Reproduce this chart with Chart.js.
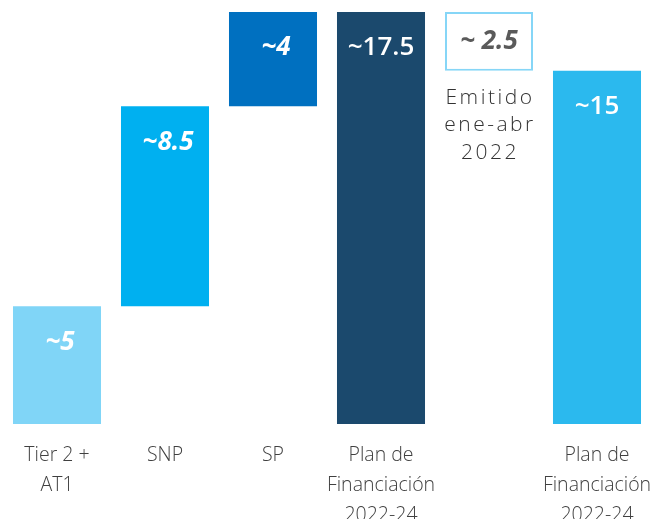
<!DOCTYPE html>
<html>
<head>
<meta charset="utf-8">
<script src="https://cdn.jsdelivr.net/npm/chart.js@4/dist/chart.umd.min.js"></script>
<style>
  html, body { margin:0; padding:0; background:#fff; }
  #wrap { width:651px; height:519px; position:relative; }
</style>
</head>
<body>
<div id="wrap"><canvas id="waterfall" width="651" height="519"></canvas></div>
<script>
// waterfall: emisiones por tipo -> plan de financiación
const categories = [
  ['Tier 2 +', 'AT1'],
  ['SNP'],
  ['SP'],
  ['Plan de', 'Financiación', '2022-24'],
  [''],
  ['Plan de', 'Financiación', '2022-24']
];
const values = [5, 8.5, 4, 17.5, 2.5, 15];
const bases = [0, 5, 13.5, 0, 15, 0];
const labelPrefix = ['~', '~', '~', '~', '~ ', '~'];
const emitidoLines = ['Emitido', 'ene-abr', '2022'];

const fills = ['#80d5f7', '#00b0f0', '#0070c0', '#1b496d', '#ffffff', '#2bb9ee'];
const borders = ['#80d5f7', '#00b0f0', '#0070c0', '#1b496d', '#86d6f7', '#2bb9ee'];
const borderW = [0, 0, 0, 0, 2, 0];

const ranges = values.map((v,i) => [bases[i], bases[i] + v]);

const labelsPlugin = {
  id: 'barLabels',
  afterDatasetsDraw(chart){
    const ctx = chart.ctx;
    const meta = chart.getDatasetMeta(0);
    ctx.save();
    ctx.textAlign = 'center';
    ctx.textBaseline = 'middle';
    meta.data.forEach((bar, i) => {
      const top = Math.min(bar.y, bar.base);
      const italic = (i !== 3 && i !== 5);
      ctx.font = (italic ? 'italic 700 ' : '600 ') + '26px "Open Sans", sans-serif';
      ctx.fillStyle = i === 4 ? '#5a5a5a' : '#ffffff';
      const off = i === 4 ? 30 : 36;
      ctx.fillText(labelPrefix[i] + values[i], bar.x + (italic && i !== 4 ? 3 : 0), top + off);
    });
    // texto bajo la caja de emitido
    const b = meta.data[4];
    const boxBottom = Math.max(b.y, b.base);
    ctx.font = '300 21px "Open Sans", sans-serif';
    ctx.fillStyle = '#333333';
    ctx.letterSpacing = '2.5px';
    emitidoLines.forEach((t, k) => {
      ctx.fillText(t, b.x + 1, boxBottom + 27 + k * 27.5);
    });
    ctx.restore();
  }
};

new Chart(document.getElementById('waterfall').getContext('2d'), {
  type: 'bar',
  data: {
    labels: categories,
    datasets: [{
      data: ranges,
      backgroundColor: fills,
      borderColor: borders,
      borderWidth: borderW,
      borderSkipped: false,
      categoryPercentage: 1,
      barPercentage: 0.815
    }]
  },
  options: {
    responsive: false,
    animation: false,
    layout: { padding: { top: 12, left: 3, right: 0, bottom: 0 } },
    plugins: { legend: { display: false }, tooltip: { enabled: false } },
    scales: {
      x: {
        grid: { display: false, drawTicks: false },
        border: { display: false },
        ticks: {
          autoSkip: false,
          maxRotation: 0,
          padding: 16,
          color: '#404040',
          font: { family: '"Open Sans", sans-serif', size: 19.5, weight: 300, lineHeight: 1.55 }
        },
        afterFit(scale){
          scale.height = 95;
          scale.paddingLeft = 0;
          scale.paddingRight = 0;
        }
      },
      y: {
        display: false,
        min: 0,
        max: 17.5
      }
    }
  },
  plugins: [labelsPlugin]
});
</script>
</body>
</html>
